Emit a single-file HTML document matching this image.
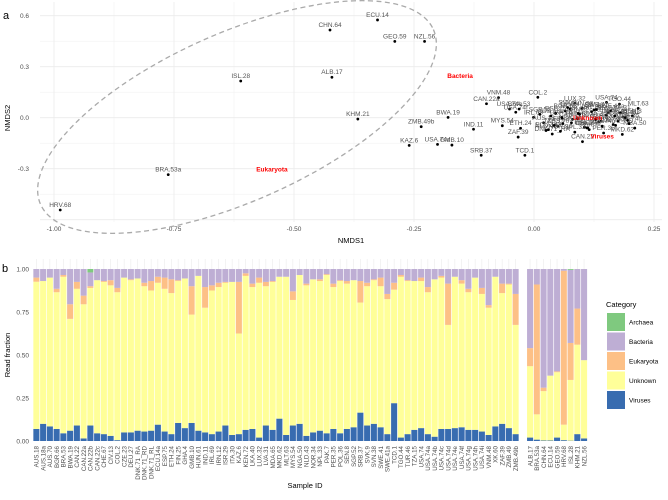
<!DOCTYPE html>
<html><head><meta charset="utf-8"><style>
body{margin:0;background:#fff;}
svg{display:block;font-family:"Liberation Sans",sans-serif;}
</style></head><body>
<svg id="fig" width="668" height="500" viewBox="0 0 668 500">
<g id="pa"></g>
<g id="pb"></g>
</svg>
<script>
// ---- Panel a data ----
const ptNames = ["HRV.68","BRA.53a","ISL.28","CHN.64","ALB.17","ECU.14","GEO.59","NZL.56","KHM.21","ZMB.49b","BWA.19","KAZ.6","USA.74d","GMB.10","IND.11","SRB.37","VNM.48","CAN.22a","USA.74e","USA.74f","BRA.53","MYS.54","ZAF.39","TCD.1","ETH.24","COL.2","LUX.32","USA.74","TGO.44","MLT.63","NGA.50","MKD.62","CAN.22","DNK.71_RA","IRL.69",
"AUS.18","AUS.18a","AUS.70","BGR.66","CAN.22b","CAN.22c","CHE.67","CIV.13","CZE.23","DEU.27","DNK.71_RD","DNK.71_RL","ECU.14a","ESP.75","FIN.25","GHA.4","HUN.61","IRN.12","ISR.29","ITA.30","KEN.72","LKA.40","LVA.31","MDA.65","NLD.43","NOR.34","NPL.33","PAK.7","PER.35","POL.36","SEN.8","SGP.52","SVK.9","SVN.38","SWE.41","SWE.41a","TUR.46","TZA.15","USA.74a","USA.74b","USA.74c","USA.74g","USA.74h","USA.74i","XK.60","ZMB.49"];
const ptX = [-0.987,-0.762,-0.611,-0.425,-0.421,-0.326,-0.290,-0.228,-0.367,-0.235,-0.179,-0.260,-0.201,-0.171,-0.126,-0.110,-0.074,-0.099,-0.051,-0.038,-0.031,-0.066,-0.033,-0.019,-0.028,0.008,0.085,0.151,0.178,0.217,0.210,0.184,0.101,0.038,-0.001,
0.020,0.035,0.050,0.065,0.080,0.095,0.110,0.125,0.140,0.155,0.170,0.185,0.030,0.045,0.060,0.075,0.090,0.105,0.120,0.135,0.150,0.165,0.180,0.195,0.025,0.055,0.085,0.115,0.145,0.175,0.205,0.012,0.070,0.100,0.130,0.160,0.190,0.042,0.078,0.112,0.142,0.168,0.198,0.058,0.092,0.128];
const ptY = [-0.543,-0.335,0.216,0.516,0.238,0.575,0.449,0.449,-0.008,-0.053,0.002,-0.163,-0.157,-0.161,-0.068,-0.221,0.118,0.082,0.051,0.032,0.051,-0.047,-0.114,-0.221,-0.062,0.120,0.085,0.090,0.080,0.055,-0.061,-0.098,-0.141,-0.096,0.002,
-0.030,0.010,-0.050,0.040,-0.010,0.020,-0.060,0.045,-0.020,0.030,-0.045,0.005,-0.070,0.025,-0.035,0.050,-0.005,-0.055,0.035,-0.025,0.015,-0.040,0.030,-0.015,-0.075,-0.080,-0.085,-0.070,-0.090,-0.020,0.010,0.020,0.060,0.055,0.048,0.040,0.000,-0.045,-0.030,-0.060,-0.050,0.010,-0.035,0.000,0.025,-0.010];
const centNames = ["Bacteria","Eukaryota","Unknown","Viruses"];
const centX = [-0.154,-0.546,0.112,0.142];
const centY = [0.244,-0.304,-0.002,-0.112];
const xTicksA = [-1.00,-0.75,-0.50,-0.25,0.00,0.25];
const yTicksA = [0.6,0.3,0.0,-0.3];

// ---- Panel b data ----
const samplesL = ["AUS.18","AUS.18a","AUS.70","BGR.66","BRA.53","BWA.19","CAN.22","CAN.22a","CAN.22b","CAN.22c","CHE.67","CIV.13","COL.2","CZE.23","DEU.27","DNK.71_RA","DNK.71_RD","DNK.71_RL","ECU.14a","ESP.75","ETH.24","FIN.25","GHA.4","GMB.10","HUN.61","IND.11","IRL.69","IRN.12","ISR.29","ITA.30","KAZ.6","KEN.72","LKA.40","LUX.32","LVA.31","MDA.65","MKD.62","MLT.63","MYS.54","NGA.50","NLD.43","NOR.34","NPL.33","PAK.7","PER.35","POL.36","SEN.8","SGP.52","SRB.37","SVK.9","SVN.38","SWE.41","SWE.41a","TCD.1","TGO.44","TUR.46","TZA.15","USA.74","USA.74a","USA.74b","USA.74c","USA.74d","USA.74e","USA.74f","USA.74g","USA.74h","USA.74i","VNM.48","XK.60","ZAF.39","ZMB.49","ZMB.49b"];
const virL = [.07,.10,.085,.07,.045,.06,.09,.015,.09,.045,.04,.03,.005,.05,.05,.06,.055,.06,.095,.055,.04,.105,.075,.105,.06,.05,.04,.055,.09,.035,.04,.065,.07,.02,.09,.065,.13,.035,.09,.10,.03,.05,.06,.045,.07,.045,.07,.08,.165,.09,.10,.08,.04,.22,.02,.04,.065,.075,.04,.025,.07,.07,.075,.08,.065,.065,.055,.035,.085,.10,.075,.04];
const unkL = [.926,.93,.95,.865,.955,.71,.885,.795,.89,.935,.925,.905,.865,.95,.935,.945,.90,.875,.92,.885,.86,.93,.945,.735,.96,.775,.875,.895,.92,.925,.625,.96,.895,.92,.90,.925,.955,.955,.82,.965,.905,.94,.93,.965,.895,.93,.915,.935,.805,.90,.935,.90,.825,.88,.955,.93,.93,.93,.865,.94,.95,.675,.955,.915,.865,.95,.855,.775,.955,.86,.91,.675];
const eukL = [.95,.93,.95,.885,.965,.795,.925,.845,.90,.935,.93,.935,.89,.95,.94,.945,.92,.93,.955,.95,.94,.935,.945,.90,.96,.895,.905,.92,.925,.925,.925,.975,.915,.95,.925,.93,.955,.955,.87,.965,.915,.94,.94,.97,.915,.935,.93,.935,.93,.92,.94,.95,.855,.92,.965,.935,.93,.95,.895,.94,.96,.915,.955,.935,.885,.95,.89,.79,.955,.915,.915,.855];
const bacL = samplesL.map((s,i)=> s==="CAN.22b" ? 0.98 : 1);
const samplesR = ["ALB.17","BRA.53a","CHN.64","ECU.14","GEO.59","HRV.68","ISL.28","KHM.21","NZL.56"];
const virR = [.02,.008,.003,.003,.02,.005,.002,.04,.015];
const unkR = [.435,.155,.29,.38,.40,.095,.355,.56,.47];
const eukR = [.54,.91,.31,.38,.405,.99,.57,.77,.47];
const bacR = [1,1,1,1,1,1,.995,1,1];
const yTicksB = [0,0.25,0.5,0.75,1];
const catNames = ["Archaea","Bacteria","Eukaryota","Unknown","Viruses"];
const catColors = ["#7fc97f","#beaed4","#fdc086","#ffff99","#386cb0"];

const NS="http://www.w3.org/2000/svg";
function mk(parent,tag,attrs,text){const e=document.createElementNS(NS,tag);for(const k in attrs)e.setAttribute(k,attrs[k]);if(text!==undefined)e.textContent=text;parent.appendChild(e);return e;}

// ---- Panel a ----
const pa=document.getElementById('pa');
const ax=v=>534+v*480, ay=v=>117.7-v*170;
const PL=40,PR=662,PT=2,PB=222;
for(let v=-1.125;v<=0.3;v+=0.125){const e=mk(pa,'line',{x1:ax(v),x2:ax(v),y1:PT,y2:PB,stroke:'#ebebeb','stroke-width':Math.abs(v*4-Math.round(v*4))<1e-6?0.8:0.4});}
for(let v=-0.6;v<=0.7;v+=0.15){const e=mk(pa,'line',{x1:PL,x2:PR,y1:ay(v),y2:ay(v),stroke:'#ebebeb','stroke-width':Math.abs(v/0.3-Math.round(v/0.3))<1e-6?0.8:0.4});}
xTicksA.forEach(t=>{const e=mk(pa,'text',{x:ax(t),y:231,'font-size':6.5,fill:'#4d4d4d','text-anchor':'middle'},t.toFixed(2));});
yTicksA.forEach(t=>{const e=mk(pa,'text',{x:29,y:ay(t)+2.3,'font-size':6.5,fill:'#4d4d4d','text-anchor':'end'},t.toFixed(1));});
let t1=mk(pa,'text',{x:351,y:243,'font-size':7.5,fill:'#000','text-anchor':'middle'},'NMDS1');
let t2=mk(pa,'text',{transform:'translate(10,118) rotate(-90)','font-size':7.5,fill:'#000','text-anchor':'middle'},'NMDS2');
let la=mk(pa,'text',{x:3,y:19,'font-size':11,fill:'#000'},'a');
let el=mk(pa,'ellipse',{cx:237,cy:117,rx:215,ry:84,transform:'rotate(-24 237 117)',fill:'none',stroke:'#aaa','stroke-width':1.3,'stroke-dasharray':'5,3.5'});
ptNames.forEach((n,i)=>{const g=mk(pa,'g',{});
 mk(g,'circle',{cx:ax(ptX[i]),cy:ay(ptY[i]),r:1.4,fill:'#000'});
 mk(g,'text',{x:ax(ptX[i]),y:ay(ptY[i])-3,'font-size':6.5,fill:'#555','text-anchor':'middle'},n);});
centNames.forEach((n,i)=>{const e=mk(pa,'text',{x:ax(centX[i]),y:ay(centY[i])+2,'font-size':6.5,'font-weight':'bold',fill:'#ff0000','text-anchor':'middle'},n);});

// ---- Panel b ----
const pb=document.getElementById('pb');
const by=v=>441-v*172;
const bw=6.75;
yTicksB.forEach(t=>{const e=mk(pb,'text',{x:29,y:by(t)+2.3,'font-size':6.5,fill:'#4d4d4d','text-anchor':'end'},t.toFixed(2));});
let lb=mk(pb,'text',{x:2,y:272,'font-size':11,fill:'#000'},'b');
let t3=mk(pb,'text',{transform:'translate(10,355) rotate(-90)','font-size':7.5,fill:'#000','text-anchor':'middle'},'Read fraction');
let t4=mk(pb,'text',{x:305,y:488,'font-size':7.5,fill:'#000','text-anchor':'middle'},'Sample ID');
function drawBars(names,vir,unk,euk,bac,x0){
 names.forEach((n,i)=>{const x=x0+i*bw, cx=x+bw/2;
  const gl=mk(pb,'line',{x1:cx,x2:cx,y1:259,y2:441,stroke:'#ebebeb','stroke-width':0.6});
  const g=mk(pb,'g',{});
  const segs=[[0,vir[i],catColors[4]],[vir[i],unk[i],catColors[3]],[unk[i],euk[i],catColors[2]],[euk[i],bac[i],catColors[1]],[bac[i],1,catColors[0]]];
  segs.forEach(s=>{if(s[1]>s[0])mk(g,'rect',{x:x+0.35,y:by(s[1]),width:bw-0.7,height:by(s[0])-by(s[1]),fill:s[2]});});
  const tl=mk(pb,'text',{transform:`translate(${cx+2.2},446) rotate(-90)`,'font-size':6.2,fill:'#4d4d4d','text-anchor':'end'},n);
  
 });
}
drawBars(samplesL,virL,unkL,eukL,bacL,33);
drawBars(samplesR,virR,unkR,eukR,bacR,526.7);
const lg=mk(pb,'g',{});
const lt=mk(lg,'text',{x:606,y:307,'font-size':7.5,fill:'#000'},'Category');
catNames.forEach((n,i)=>{const g=mk(lg,'g',{});
 mk(g,'rect',{x:607,y:313+i*19.5,width:18,height:18,fill:catColors[i]});
 mk(g,'text',{x:629,y:324.5+i*19.5,'font-size':6.5,fill:'#000'},n);});
</script>
</body></html>
